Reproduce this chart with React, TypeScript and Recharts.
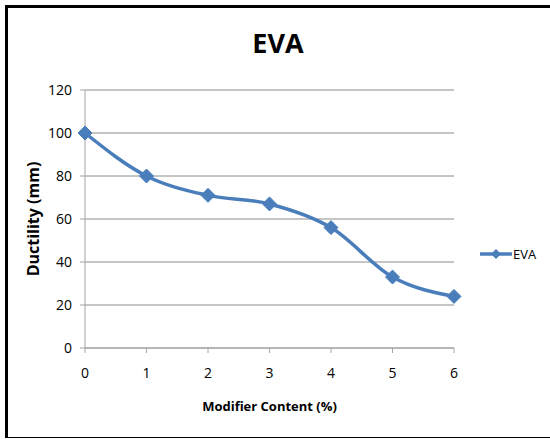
import React from 'react'
import { LineChart, Line, XAxis, YAxis, CartesianGrid, Legend } from 'recharts'

const modifierContent = [0, 1, 2, 3, 4, 5, 6]
const ductility = [100, 80, 71, 67, 56, 33, 24]
const yTicks = [0, 20, 40, 60, 80, 100, 120]

const chartData = modifierContent.map((x, i) => ({ x, EVA: ductility[i] }))

const LINE_COLOR = '#4A7EBB'
const FONT = '"Open Sans", "Noto Sans", sans-serif'

const Diamond = (props: any) => {
  const { cx, cy } = props
  if (cx == null || cy == null) return null
  const r = 7
  return (
    <path
      d={`M${cx},${cy - r} L${cx + r},${cy} L${cx},${cy + r} L${cx - r},${cy} Z`}
      fill={LINE_COLOR}
      stroke={LINE_COLOR}
    />
  )
}

const LegendContent = () => (
  <div style={{ display: 'flex', alignItems: 'center', fontFamily: FONT, fontSize: 13, color: '#000' }}>
    <svg width={32} height={12}>
      <line x1={0} y1={6} x2={32} y2={6} stroke={LINE_COLOR} strokeWidth={3.5} />
      <path d="M16,1 L21,6 L16,11 L11,6 Z" fill={LINE_COLOR} />
    </svg>
    <span style={{ marginLeft: 1 }}>EVA</span>
  </div>
)

export default function App() {
  return (
    <div style={{ position: 'absolute', left: 0, top: 0, width: 550, height: 439, background: '#fff', overflow: 'hidden' }}>
      {/* frame */}
      <div style={{
        position: 'absolute',
        left: 5,
        top: 5,
        width: 600,
        height: 429,
        borderLeft: '3px solid #000',
        borderTop: '3px solid #000',
        borderBottom: '1.5px solid #000'
      }} />

      {/* title */}
      <div style={{
        position: 'absolute',
        left: 0,
        width: 556,
        top: 25,
        textAlign: 'center',
        fontFamily: FONT,
        fontWeight: 700,
        fontSize: 27,
        lineHeight: '36px',
        color: '#000'
      }}>
        EVA
      </div>

      <div style={{ position: 'absolute', left: 0, top: 0 }}>
        <LineChart
          width={550}
          height={439}
          data={chartData}
          margin={{ top: 90, right: 96, left: 45, bottom: 61 }}
        >
          <CartesianGrid vertical={false} stroke="#8c8c8c" strokeWidth={1} />
          <XAxis
            dataKey="x"
            type="number"
            domain={[0, 6]}
            ticks={modifierContent}
            height={30}
            tickSize={5}
            stroke="#a6a6a6"
            tick={{ fill: '#000', fontSize: 14, fontFamily: FONT }}
            tickMargin={15}
            label={{
              value: 'Modifier Content (%)',
              position: 'insideBottom',
              offset: -33,
              style: { fontFamily: FONT, fontWeight: 700, fontSize: 13, fill: '#000' }
            }}
          />
          <YAxis
            domain={[0, 120]}
            ticks={yTicks}
            width={40}
            tickSize={5}
            stroke="#a6a6a6"
            tick={{ fill: '#000', fontSize: 14, fontFamily: FONT }}
            tickMargin={8}
            label={{
              value: 'Ductility (mm)',
              angle: -90,
              position: 'insideLeft',
              offset: -12,
              style: { textAnchor: 'middle', fontFamily: FONT, fontWeight: 700, fontSize: 16, fill: '#000' }
            }}
          />
          <Legend
            layout="horizontal"
            verticalAlign="middle"
            align="center"
            content={<LegendContent />}
            wrapperStyle={{ position: 'absolute', left: 480, top: 245, width: 70 }}
          />
          <Line
            type="monotone"
            dataKey="EVA"
            stroke={LINE_COLOR}
            strokeWidth={3.5}
            dot={<Diamond />}
            activeDot={false}
            isAnimationActive={false}
          />
        </LineChart>
      </div>
    </div>
  )
}
